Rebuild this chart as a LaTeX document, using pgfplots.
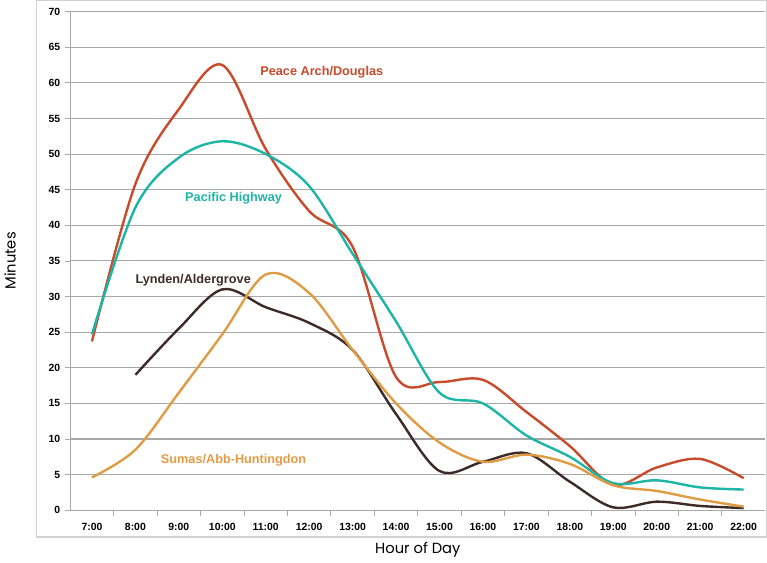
\documentclass[border=0pt]{standalone}
\usepackage{fontspec}
\setmainfont{Liberation Sans}
\newfontfamily\labelfont{Poppins}
\usepackage{pgfplots}
\pgfplotsset{compat=1.18}

\definecolor{peace}{HTML}{C84B2B}
\definecolor{pacific}{HTML}{1DB5A6}
\definecolor{lynden}{HTML}{3D2B28}
\definecolor{sumas}{HTML}{E09C45}
\definecolor{gridgray}{HTML}{A8A8A8}

\begin{document}
\begin{tikzpicture}
    \begin{axis}[
        scale only axis,
        width=520pt,
        height=373pt,
        xmin=6.5, xmax=22.5,
        ymin=0, ymax=70,
        axis x line*=bottom,
        axis y line*=left,
        axis line style={gridgray, line width=0.8pt},
        xtick={7,...,22},
        xticklabels={7:00,8:00,9:00,10:00,11:00,12:00,13:00,14:00,15:00,16:00,17:00,18:00,19:00,20:00,21:00,22:00},
        major x tick style={draw=none},
        minor xtick={7.5,8.5,...,21.5},
        minor x tick style={gridgray, line width=0.6pt},
        minor tick length=4pt,
        ytick={0,5,...,70},
        major y tick style={gridgray, line width=0.6pt},
        major tick length=4pt,
        tick align=outside,
        ymajorgrids,
        major grid style={gridgray, line width=0.8pt},
        /pgf/number format/assume math mode=true,
        tick label style={font=\fontsize{7.8}{9}\selectfont\bfseries},
        xticklabel style={yshift=-2pt},
        ylabel={Minutes},
        xlabel={Hour of Day},
        label style={font=\labelfont\fontsize{11}{13}\selectfont},
        ylabel style={at={(axis description cs:-0.0865,0.5)}, anchor=center, rotate=0},
        xlabel style={at={(axis description cs:0.5,-0.08)}, anchor=center},
        every axis plot/.append style={line width=1.8pt, smooth, tension=0.55},
        clip=false,
    ]
        % Peace Arch/Douglas
        \addplot[peace] coordinates {
            (7,23.7)(8,45.8)(9,56.3)(10,62.5)(11,50.7)(12,42.0)(13,37.0)(14,18.7)
            (15,18.0)(16,18.3)(17,13.8)(18,9.0)(19,3.6)(20,6.0)(21,7.2)(22,4.5)
        };
        % Pacific Highway
        \addplot[pacific] coordinates {
            (7,24.7)(8,42.5)(9,49.5)(10,51.8)(11,50.0)(12,45.5)(13,36.0)(14,26.5)
            (15,16.5)(16,15.0)(17,10.5)(18,7.5)(19,3.8)(20,4.2)(21,3.2)(22,2.9)
        };
        % Lynden/Aldergrove
        \addplot[lynden] coordinates {
            (8,19.0)(9,25.5)(10,31.0)(11,28.5)(12,26.3)(13,22.5)(14,13.5)
            (15,5.5)(16,6.8)(17,8.0)(18,4.0)(19,0.4)(20,1.2)(21,0.6)(22,0.3)
        };
        % Sumas/Abb-Huntingdon
        \addplot[sumas] coordinates {
            (7,4.6)(8,8.5)(9,16.5)(10,24.7)(11,33.1)(12,30.5)(13,22.5)(14,15.0)
            (15,9.5)(16,6.8)(17,7.8)(18,6.5)(19,3.5)(20,2.7)(21,1.5)(22,0.5)
        };

        \node[font=\fontsize{9.5}{11}\selectfont\bfseries, text=peace] at (axis cs:12.29,61.5) {Peace Arch/Douglas};
        \node[font=\fontsize{9.5}{11}\selectfont\bfseries, text=pacific] at (axis cs:10.26,43.8) {Pacific Highway};
        \node[font=\fontsize{9.5}{11}\selectfont\bfseries, text=lynden] at (axis cs:9.33,32.25) {Lynden/Aldergrove};
        \node[font=\fontsize{9.5}{11}\selectfont\bfseries, text=sumas] at (axis cs:10.26,7.0) {Sumas/Abb-Huntingdon};
    \end{axis}
    \draw[gray!35, line width=0.9pt]
        ([xshift=-25.5pt,yshift=8.25pt]current axis.north west)
        rectangle ([xshift=0.8pt,yshift=-20pt]current axis.south east);
\end{tikzpicture}
\end{document}
